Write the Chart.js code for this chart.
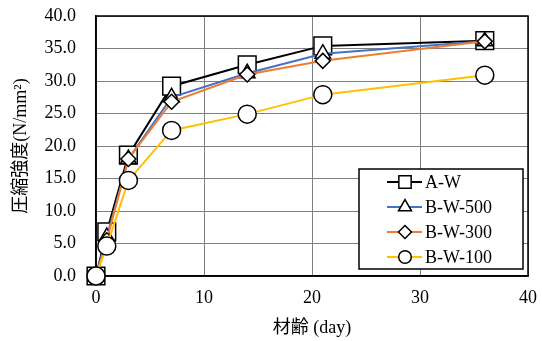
<!DOCTYPE html>
<html>
<head>
<meta charset="utf-8">
<script src="https://cdn.jsdelivr.net/npm/chart.js@4/dist/chart.umd.min.js"></script>
<style>
  body { margin: 0; background: #fff; }
  #wrap { width: 542px; height: 341px; }
</style>
</head>
<body>
<div id="wrap"><canvas id="cht"></canvas></div>
<script>
// data
let days = [0, 1, 3, 7, 14, 21, 36];
let seriesNames = ["A-W", "B-W-500", "B-W-300", "B-W-100"];
let aW = [0, 6.8, 18.6, 29.2, 32.5, 35.4, 36.2];
let bW500 = [0, 6.0, 18.0, 27.5, 31.2, 34.2, 36.1];
let bW300 = [0, 5.5, 18.0, 26.8, 31.0, 33.1, 36.1];
let bW100 = [0, 4.6, 14.7, 22.4, 24.9, 27.9, 30.9];
let yTicks = [0, 5, 10, 15, 20, 25, 30, 35, 40];
let xTicks = [0, 10, 20, 30, 40];

let serif = "'Liberation Serif', 'Noto Sans CJK JP', serif";

function pts(ys) {
  return days.map((d, i) => ({ x: d, y: ys[i] }));
}

function mkSet(label, ys, color, style, r, order, legR) {
  return {
    label: label,
    data: pts(ys),
    borderColor: color,
    borderWidth: 2,
    pointStyle: style,
    pointRadius: r,
    pointHoverRadius: r,
    pointBackgroundColor: "#fff",
    pointBorderColor: "#000",
    pointBorderWidth: 1.5,
    order: order,
    legR: legR,
    clip: false,
    tension: 0
  };
}

//! black frame round the plot + legend box inside it
let boxLegend = {
  id: "boxLegend",
  beforeDatasetsDraw(chart) {
    let a = chart.chartArea;
    let ctx = chart.ctx;
    ctx.save();
    ctx.strokeStyle = "#000";
    ctx.lineWidth = 1.5;
    ctx.strokeRect(a.left, a.top, a.right - a.left, a.bottom - a.top);
    ctx.restore();
  },
  afterDraw(chart) {
    let ctx = chart.ctx;
    let x0 = 359, y0 = 169, w = 164, h = 100;
    ctx.save();
    ctx.fillStyle = "#fff";
    ctx.fillRect(x0, y0, w, h);
    ctx.strokeStyle = "#000";
    ctx.lineWidth = 1.5;
    ctx.strokeRect(x0, y0, w, h);
    chart.data.datasets.forEach((ds, i) => {
      let y = y0 + 13 + i * 25;
      ctx.strokeStyle = ds.borderColor;
      ctx.lineWidth = 2;
      ctx.beginPath();
      ctx.moveTo(x0 + 28, y);
      ctx.lineTo(x0 + 63, y);
      ctx.stroke();
      ctx.fillStyle = "#fff";
      ctx.strokeStyle = "#000";
      ctx.lineWidth = 1.5;
      Chart.helpers.drawPoint(ctx, { pointStyle: ds.pointStyle, radius: ds.legR, borderWidth: 1.5 }, x0 + 46, y);
      ctx.fillStyle = "#000";
      ctx.font = "18px " + serif;
      ctx.textBaseline = "middle";
      ctx.textAlign = "left";
      ctx.fillText(ds.label, x0 + 66, y + 1);
    });
    ctx.restore();
  }
};

let ctx = document.getElementById("cht").getContext("2d");
let MyChart = new Chart(ctx, {
  type: "line",
  data: {
    datasets: [
      mkSet(seriesNames[0], aW, "#000000", "rect", 12.5, 4, 8.7),
      mkSet(seriesNames[1], bW500, "#4472C4", "triangle", 9, 3, 7.5),
      mkSet(seriesNames[2], bW300, "#ED7D31", "rectRot", 7.5, 2, 6.5),
      mkSet(seriesNames[3], bW100, "#FFC000", "circle", 9, 1, 6.3)
    ]
  },
  options: {
    responsive: true,
    maintainAspectRatio: false,
    animation: false,
    events: [],
    layout: { padding: { left: 6, right: 12, top: 16, bottom: 0 } },
    plugins: { legend: { display: false }, tooltip: { enabled: false } },
    scales: {
      x: {
        type: "linear",
        min: 0, max: 40,
        afterBuildTicks: (s) => { s.ticks = xTicks.map(v => ({ value: v })); },
        afterFit: (s) => { s.height = 65; s.paddingLeft = 0; s.paddingRight = 0; },
        ticks: { color: "#000", font: { family: serif, size: 18 }, padding: 11 },
        grid: { color: "#7f7f7f", lineWidth: 1, drawTicks: false },
        border: { color: "#000", width: 1.5 },
        title: { display: true, text: "材齢 (day)", color: "#000", font: { family: serif, size: 18 }, padding: { top: 14, bottom: 2 } }
      },
      y: {
        min: 0, max: 40,
        afterBuildTicks: (s) => { s.ticks = yTicks.map(v => ({ value: v })); },
        afterFit: (s) => { s.width = 90; s.paddingTop = 0; s.paddingBottom = 0; },
        ticks: { color: "#000", font: { family: serif, size: 18 }, padding: 20, callback: (v) => v.toFixed(1) },
        grid: { color: "#7f7f7f", lineWidth: 1, drawTicks: false },
        border: { color: "#000", width: 1.5 },
        title: { display: true, text: "圧縮強度(N/mm²)", color: "#000", font: { family: serif, size: 18 }, padding: { bottom: 0 } }
      }
    }
  },
  plugins: [boxLegend]
});
</script>
</body>
</html>
